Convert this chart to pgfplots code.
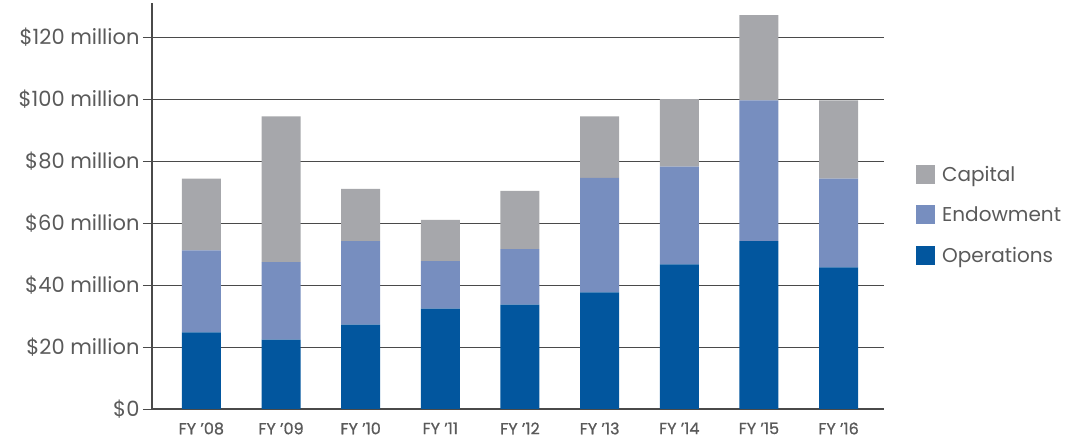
\documentclass[border=0pt]{standalone}
\usepackage{pgfplots}
\pgfplotsset{compat=1.18}
\usepackage{fontspec}
\setmainfont{Poppins}
\newfontfamily\medfont[FakeBold=0.8]{Poppins}
\definecolor{ops}{HTML}{02569E}
\definecolor{endow}{HTML}{778EBF}
\definecolor{capital}{HTML}{A6A7AB}
\definecolor{txt}{HTML}{5A5A5A}
\definecolor{gridc}{HTML}{4A4A4A}
\begin{document}
\begin{tikzpicture}
\begin{axis}[
  at={(0,0)}, anchor=south west,
  scale only axis, width=732bp, height=406bp,
  ybar stacked, bar width=39bp,
  xmin=-0.62, xmax=8.57, ymin=0, ymax=131,
  axis lines=left, axis line style={-, draw=gridc, line width=1.2bp},
  xtick=data,
  xticklabels={FY ’08,FY ’09,FY ’10,FY ’11,FY ’12,FY ’13,FY ’14,FY ’15,FY ’16},
  x tick label style={font=\medfont\fontsize{16bp}{18bp}\selectfont, text=txt, yshift=-1bp},
  major x tick style={draw=none},
  ytick={0,20,40,60,80,100,120},
  yticklabels={\$0,\$20 million,\$40 million,\$60 million,\$80 million,\$100 million,\$120 million},
  y tick label style={font=\fontsize{21bp}{23bp}\selectfont, text=txt},
  tick align=outside, major tick length=9bp,
  major y tick style={draw=gridc, line width=0.8bp},
  ymajorgrids, major grid style={draw=gridc, line width=0.8bp},
  reverse legend,
  legend cell align=left,
  legend style={draw=none, fill=none, at={(1,0.5)}, anchor=west, xshift=29bp, yshift=-9bp,
    font=\fontsize{20bp}{22bp}\selectfont, text=txt, row sep=20bp},
  legend image code/.code={\fill[#1] (0bp,-9.5bp) rectangle (19bp,9.5bp); \path (24bp,0bp);},
]
\addplot[fill=ops, draw=none] coordinates {(0,24.7) (1,22.4) (2,27.2) (3,32.4) (4,33.7) (5,37.6) (6,46.7) (7,54.2) (8,45.7)};
\addplot[fill=endow, draw=none] coordinates {(0,26.5) (1,25.0) (2,27.0) (3,15.3) (4,17.9) (5,37.0) (6,31.5) (7,45.4) (8,28.6)};
\addplot[fill=capital, draw=none] coordinates {(0,23.1) (1,47.0) (2,16.8) (3,13.3) (4,18.8) (5,19.8) (6,21.8) (7,27.5) (8,25.3)};
\legend{Operations,Endowment,Capital}
\end{axis}
\pgfresetboundingbox
\useasboundingbox (-152bp,-33bp) rectangle (918bp,409bp);
\end{tikzpicture}
\end{document}
